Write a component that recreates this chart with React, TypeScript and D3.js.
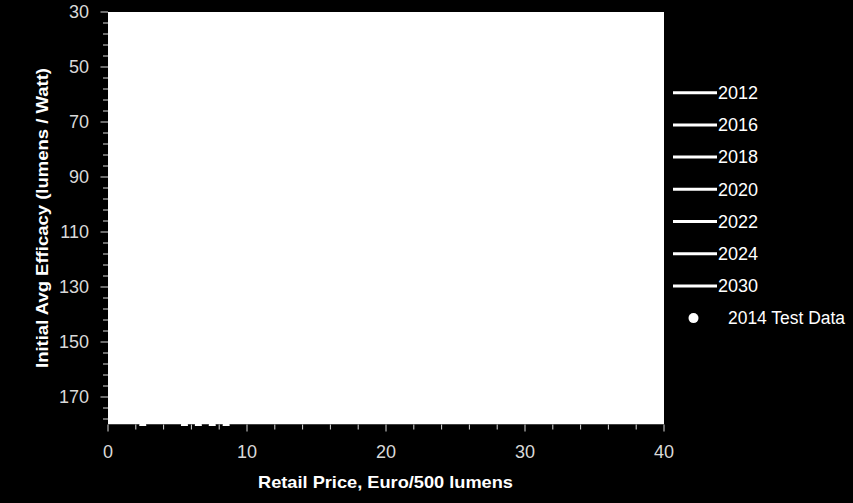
import React, { useEffect } from "react";
import * as d3 from "d3";

// legend series (lines are white on white in the plot, so only the legend shows)
const seriesYears = ["2012", "2016", "2018", "2020", "2022", "2024", "2030"];
const testDataLabel = "2014 Test Data";

// 2014 test data, sitting on the bottom edge of the plot
const testPrice = [2.5, 5.5, 6.5, 7.5, 8.5];
const testEfficacy = [181, 181, 181, 181, 181];

const xTicks = [0, 10, 20, 30, 40];
const yTicks = [30, 50, 70, 90, 110, 130, 150, 170];

const W = 853;
const H = 503;
const margin = { left: 108, right: 189, top: 12, bottom: 78.5 };
const FONT = "'Liberation Sans', Arial, sans-serif";

export default function App() {
  useEffect(() => {
    document.body.style.margin = "0";
    document.body.style.background = "#000";
  }, []);

  const x = d3.scaleLinear().domain([0, 40]).range([margin.left, W - margin.right]);
  const y = d3.scaleLinear().domain([30, 180]).range([margin.top, H - margin.bottom]);

  const xMinor = d3.range(0, 40.001, 2);
  const yMinor = d3.range(30, 180, 4);

  const legendX = 673;
  const legendY0 = 92.7;
  const legendStep = 32.2;

  return (
    <svg width={W} height={H} style={{ display: "block" }} fontFamily={FONT}>
      <rect width={W} height={H} fill="#000" />
      <defs>
        <clipPath id="plotClip">
          <rect x={x(0)} y={y(30)} width={x(40) - x(0)} height={y(180) - y(30) + 1.5} />
        </clipPath>
      </defs>

      {/* plot area */}
      <rect x={x(0)} y={y(30)} width={x(40) - x(0)} height={y(180) - y(30)} fill="#fff" />

      {/* axis line (dark, on black) */}
      <line x1={x(0)} x2={x(40)} y1={y(180) + 0.5} y2={y(180) + 0.5} stroke="#000" />

      {/* test data */}
      <g clipPath="url(#plotClip)">
        {testPrice.map((p, i) => (
          <circle key={i} cx={x(p)} cy={y(testEfficacy[i]) - 2} r={3.5} fill="#fff" />
        ))}
      </g>

      {/* y ticks */}
      {yMinor.map((v) => {
        const major = yTicks.includes(v);
        return (
          <line
            key={"ym" + v}
            x1={x(0) - (major ? 7.5 : 5)}
            x2={x(0)}
            y1={y(v)}
            y2={y(v)}
            stroke="#d9d9d9"
            strokeWidth={1}
          />
        );
      })}
      {yTicks.map((v) => (
        <text
          key={"yl" + v}
          x={89}
          y={y(v)}
          dy="0.35em"
          textAnchor="end"
          fontSize={18}
          fill="#d9d9d9"
        >
          {v}
        </text>
      ))}

      {/* x ticks */}
      {xMinor.map((v) => {
        const major = xTicks.includes(v);
        return (
          <line
            key={"xm" + v}
            x1={x(v)}
            x2={x(v)}
            y1={y(180)}
            y2={y(180) + (major ? 7 : 5)}
            stroke="#d9d9d9"
            strokeWidth={1}
          />
        );
      })}
      {xTicks.map((v) => (
        <text key={"xl" + v} x={x(v)} y={458} textAnchor="middle" fontSize={18} fill="#d9d9d9">
          {v}
        </text>
      ))}

      {/* axis titles */}
      <text
        x={385.5}
        y={488}
        textAnchor="middle"
        fontSize={17}
        fontWeight="bold"
        fill="#fff"
        textLength={255}
        lengthAdjust="spacingAndGlyphs"
      >
        Retail Price, Euro/500 lumens
      </text>
      <text
        transform={`translate(48,218) rotate(-90)`}
        textAnchor="middle"
        fontSize={17}
        fontWeight="bold"
        fill="#fff"
        textLength={300}
        lengthAdjust="spacingAndGlyphs"
      >
        Initial Avg Efficacy (lumens / Watt)
      </text>

      {/* legend */}
      {seriesYears.map((s, i) => {
        const ly = legendY0 + i * legendStep;
        return (
          <g key={s}>
            <line x1={legendX} x2={legendX + 44} y1={ly} y2={ly} stroke="#fff" strokeWidth={3} />
            <text x={legendX + 45} y={ly} dy="0.35em" fontSize={18} fill="#fff">
              {s}
            </text>
          </g>
        );
      })}
      <circle cx={legendX + 20.5} cy={legendY0 + seriesYears.length * legendStep} r={5} fill="#fff" />
      <text
        x={legendX + 55}
        y={legendY0 + seriesYears.length * legendStep}
        dy="0.35em"
        fontSize={18}
        fill="#fff"
        textLength={117}
        lengthAdjust="spacingAndGlyphs"
      >
        {testDataLabel}
      </text>
    </svg>
  );
}
